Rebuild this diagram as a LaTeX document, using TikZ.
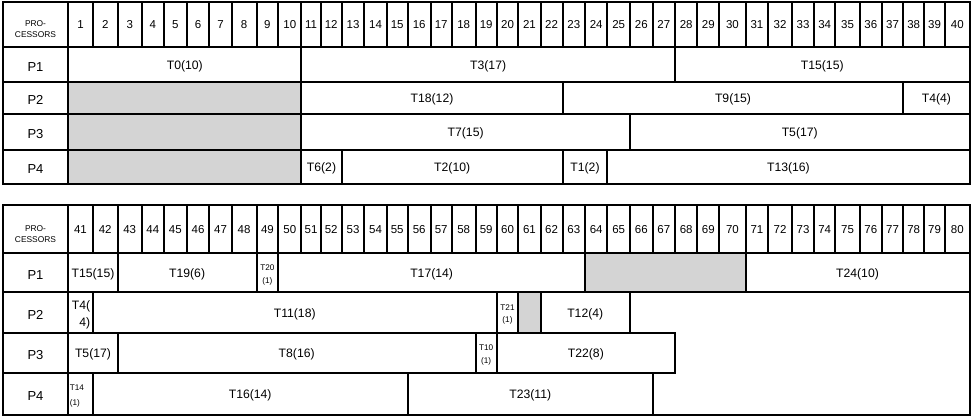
\documentclass[tikz,border=0pt]{standalone}
\usepackage{fontspec}
\setmainfont{Liberation Sans}
\usetikzlibrary{fit,calc}
\definecolor{idlegray}{HTML}{D4D4D4}
% column boundaries (pixels): index 0 = left frame, 1 = right of label column, k..k+1 = column k
\def\xs{{2.7,68.3,92.7,117.7,141.7,164,186.7,209.3,231.7,256.5,278.3,301.3,320.7,341.7,364.3,386.7,407.7,430.7,451.7,475.7,496.7,518.3,540.5,562.7,585,607.3,630,652.7,675,697.3,719.3,745.5,768.3,791.7,814.3,835,860,881.7,903.3,924,945,969.5}}
% row boundaries: 0..5 top table, 6..11 bottom table
\def\ys{{1.5,47,82,114,150,184,205,253.3,292.3,333.3,372.7,415}}
% a cell box (no text)
\newcommand\cell[6][]{%
  \coordinate (#2-nw) at ({\xs[#3]},{\ys[#5]});
  \coordinate (#2-se) at ({\xs[#4]},{\ys[#6]});
  \node[cellbox,fit=(#2-nw)(#2-se),#1] (#2) {};
}
% a text line placed on its baseline relative to a cell centre: [style]{name}{cell}{dx}{dy}{text}
\newcommand\txt[6][]{%
  \node[lbl,#1] (#2) at ($(#3.center)+(#4,#5)$) {#6};
}
% a task cell with one centred text line
\newcommand\task[7][]{%
  \cell[#1]{#2}{#3}{#4}{#5}{#6}
  \txt{#2-t}{#2}{0}{4.8}{#7}
}
\tikzset{
  cellbox/.style={draw, line width=2pt, inner sep=0pt, outer sep=0pt},
  idle/.style={fill=idlegray},
  lbl/.style={anchor=base, inner sep=0pt, outer sep=0pt, font=\fontsize{12.2}{14}\selectfont},
  num/.style={font=\fontsize{11.5}{13}\selectfont},
  proc/.style={font=\fontsize{13}{15}\selectfont},
  head/.style={font=\fontsize{8.4}{10}\selectfont},
  tiny/.style={font=\fontsize{8.2}{10}\selectfont},
}
\begin{document}
\begin{tikzpicture}[x=1pt,y=-1pt]
\useasboundingbox (0,0) rectangle (972,418);
% ---------- top table ----------
\cell{frameA}{0}{41}{0}{5}
\cell{hlA}{0}{1}{0}{1}
\txt[head]{hlA-1}{hlA}{0}{2.5}{PRO-}
\txt[head]{hlA-2}{hlA}{0}{13}{CESSORS}
\foreach \k in {1,...,40}{\cell{hA\k}{\k}{\k+1}{0}{1}\txt[num]{hA\k-t}{hA\k}{0}{4.4}{\k}}
\foreach \r/\p in {1/1,2/2,3/3,4/4}{%
  \pgfmathtruncatemacro\rr{\r+1}
  \cell{pA\p}{0}{1}{\r}{\rr}\txt[proc]{pA\p-t}{pA\p}{0}{6.8}{P\p}}
% P1
\task{t0}{1}{11}{1}{2}{T0(10)}
\task{t3}{11}{28}{1}{2}{T3(17)}
\task{t15a}{28}{41}{1}{2}{T15(15)}
% P2
\cell[idle]{iA2}{1}{11}{2}{3}
\task{t18}{11}{23}{2}{3}{T18(12)}
\task{t9}{23}{38}{2}{3}{T9(15)}
\task{t4a}{38}{41}{2}{3}{T4(4)}
% P3
\cell[idle]{iA3}{1}{11}{3}{4}
\task{t7}{11}{26}{3}{4}{T7(15)}
\task{t5a}{26}{41}{3}{4}{T5(17)}
% P4
\cell[idle]{iA4}{1}{11}{4}{5}
\task{t6}{11}{13}{4}{5}{T6(2)}
\task{t2}{13}{23}{4}{5}{T2(10)}
\task{t1}{23}{25}{4}{5}{T1(2)}
\task{t13}{25}{41}{4}{5}{T13(16)}
% ---------- bottom table ----------
\cell{frameB}{0}{41}{6}{11}
\cell{hlB}{0}{1}{6}{7}
\txt[head]{hlB-1}{hlB}{0}{2.5}{PRO-}
\txt[head]{hlB-2}{hlB}{0}{13}{CESSORS}
\foreach \k in {1,...,40}{\pgfmathtruncatemacro\n{\k+40}\cell{hB\k}{\k}{\k+1}{6}{7}\txt[num]{hB\k-t}{hB\k}{0}{4.4}{\n}}
\foreach \r/\p in {7/1,8/2,9/3,10/4}{%
  \pgfmathtruncatemacro\rr{\r+1}
  \cell{pB\p}{0}{1}{\r}{\rr}\txt[proc]{pB\p-t}{pB\p}{0}{6.8}{P\p}}
% P1
\task{t15b}{1}{3}{7}{8}{T15(15)}
\task{t19}{3}{9}{7}{8}{T19(6)}
\cell{t20}{9}{10}{7}{8}
\txt[tiny]{t20-1}{t20}{0}{-2.2}{T20}
\txt[tiny]{t20-2}{t20}{0}{10.3}{(1)}
\task{t17}{10}{24}{7}{8}{T17(14)}
\cell[idle]{iB1}{24}{31}{7}{8}
\task{t24}{31}{41}{7}{8}{T24(10)}
% P2
\cell{t4b}{1}{2}{8}{9}
\txt[anchor=base east]{t4b-1}{t4b}{9.6}{-3.6}{T4(}
\txt[anchor=base east]{t4b-2}{t4b}{9.6}{13.8}{4)}
\task{t11}{2}{20}{8}{9}{T11(18)}
\cell{t21}{20}{21}{8}{9}
\txt[tiny]{t21-1}{t21}{0}{-2.6}{T21}
\txt[tiny]{t21-2}{t21}{0}{9.8}{(1)}
\cell[idle]{iB2}{21}{22}{8}{9}
\task{t12}{22}{26}{8}{9}{T12(4)}
% P3
\task{t5b}{1}{3}{9}{10}{T5(17)}
\task{t8}{3}{19}{9}{10}{T8(16)}
\cell{t10}{19}{20}{9}{10}
\txt[tiny]{t10-1}{t10}{0}{-2.4}{T10}
\txt[tiny]{t10-2}{t10}{0}{10}{(1)}
\task{t22}{20}{28}{9}{10}{T22(8)}
% P4
\cell{t14}{1}{2}{10}{11}
\txt[tiny, anchor=base west]{t14-1}{t14}{-10.6}{-3}{T14}
\txt[tiny, anchor=base west]{t14-2}{t14}{-10.6}{11.6}{(1)}
\task{t16}{2}{16}{10}{11}{T16(14)}
\task{t23}{16}{27}{10}{11}{T23(11)}
\end{tikzpicture}
\end{document}
